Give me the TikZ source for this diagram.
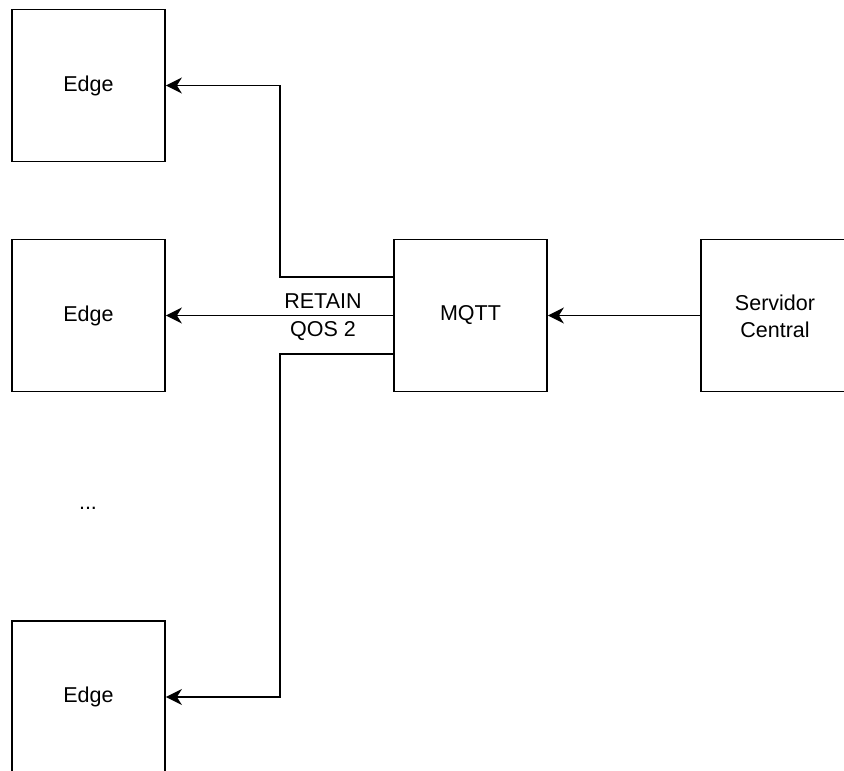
\documentclass[tikz,border=0pt]{standalone}
\usepackage{fontspec}
\setmainfont{Liberation Sans}
\usetikzlibrary{arrows.meta}
\begin{document}
\begin{tikzpicture}[x=1pt,y=-1pt,
  box/.style={draw,line width=1.8pt,minimum width=153pt,minimum height=152pt,inner sep=0pt,font=\fontsize{21.5}{27}\selectfont,align=center},
  conn/.style={line width=1.8pt,-{Stealth[length=16pt,width=16pt,inset=5pt]}},
  lbl/.style={font=\fontsize{21.5}{27}\selectfont}]
\useasboundingbox (0,0) rectangle (844,771);
\clip (0,0) rectangle (844,771);
\node[box] (e1) at (88.5,85.5) {Edge};
\node[box] (e2) at (88.5,315.5) {Edge};
\node[box] (e3) at (88.5,697) {Edge};
\node[box] (mq) at (470.5,315.5) {MQTT};
\node[box,minimum width=160pt] (sv) at (781,315.5) {};
\node[lbl,align=center] (svt) at (775,316) {Servidor\\Central};
\node[lbl] (dots) at (88,508) {...};
\coordinate (a1) at (280,277);
\coordinate (a3) at (280,354);
\draw[conn] (sv.west) -- (mq.east);
\draw[conn] (mq.west |- a1) -- (a1) |- (e1.east);
\draw[conn] (mq.west) -- (e2.east);
\draw[conn] (mq.west |- a3) -- (a3) |- (e3.east);
\node[lbl] (ret) at (323,301) {RETAIN};
\node[lbl] (qos) at (323,331) {QOS 2};
\end{tikzpicture}
\end{document}
